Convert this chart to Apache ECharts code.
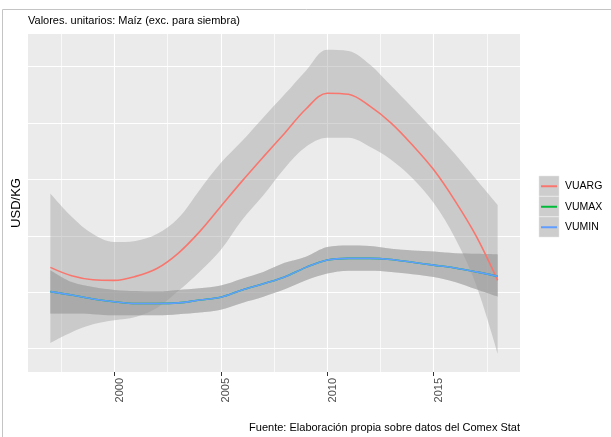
<!DOCTYPE html>
<html>
<head>
<meta charset="utf-8">
<script src="https://cdn.jsdelivr.net/npm/echarts@6/dist/echarts.min.js"></script>
<style>
  html, body { margin: 0; padding: 0; background: #fff; }
  #chart { width: 611px; height: 437px; }
</style>
</head>
<body>
<div id="chart"></div>
<script>
// años
const years = [1997, 1998, 1999, 2000, 2001, 2002, 2003, 2004, 2005, 2006, 2007,
  2008, 2009, 2010, 2011, 2012, 2013, 2014, 2015, 2016, 2017, 2018];

// VUARG (curva suavizada e intervalo)
const vuarg = [0.244, 0.229, 0.222, 0.221, 0.228, 0.242, 0.269, 0.307, 0.352, 0.397, 0.440,
  0.482, 0.525, 0.553, 0.551, 0.530, 0.500, 0.461, 0.417, 0.362, 0.299, 0.221];
const vuargHi = [0.375, 0.334, 0.303, 0.289, 0.291, 0.303, 0.331, 0.381, 0.429, 0.468, 0.510,
  0.551, 0.593, 0.630, 0.628, 0.604, 0.566, 0.527, 0.487, 0.445, 0.400, 0.355];
const vuargLo = [0.110, 0.129, 0.143, 0.150, 0.156, 0.172, 0.202, 0.236, 0.275, 0.328, 0.372,
  0.420, 0.458, 0.474, 0.474, 0.458, 0.435, 0.402, 0.358, 0.296, 0.212, 0.091];

// VUMIN
const vumin = [0.201, 0.195, 0.188, 0.183, 0.180, 0.180, 0.181, 0.186, 0.191, 0.204, 0.215,
  0.227, 0.244, 0.257, 0.260, 0.260, 0.258, 0.253, 0.248, 0.243, 0.236, 0.228];
const vuminHi = [0.239, 0.218, 0.209, 0.204, 0.202, 0.201, 0.204, 0.207, 0.212, 0.224, 0.236,
  0.252, 0.263, 0.280, 0.283, 0.282, 0.277, 0.274, 0.272, 0.269, 0.268, 0.267];
const vuminLo = [0.162, 0.162, 0.161, 0.159, 0.159, 0.159, 0.161, 0.164, 0.169, 0.181, 0.192,
  0.205, 0.221, 0.233, 0.238, 0.238, 0.236, 0.232, 0.227, 0.218, 0.205, 0.192];

// VUMAX queda tapada por VUMIN (misma curva)
const vumax = vumin;
const vumaxHi = vuminHi;
const vumaxLo = vuminLo;

const majorYears = [2000, 2005, 2010, 2015];
const minorYears = [1997.5, 2002.5, 2007.5, 2012.5, 2017.5];
const yGrid = [0.1, 0.2, 0.3, 0.4, 0.5, 0.6];

const FONT = 'Liberation Sans, Arial, sans-serif';
const BAND = 'rgba(153,153,153,0.4)';

const chart = echarts.init(document.getElementById('chart'));

// banda: serie inferior + ancho apilado (columna 0 = valor, columna 1 = año)
function band(name, lo, hi) {
  return [
    {
      name: name + '_lo', type: 'line', stack: name, smooth: 0.35, showSymbol: false,
      encode: {x: 1, y: 0},
      data: lo.map((v, i) => [v, years[i]]),
      lineStyle: {opacity: 0}, silent: true
    },
    {
      name: name + '_band', type: 'line', stack: name, smooth: 0.35, showSymbol: false,
      encode: {x: 1, y: 0},
      data: hi.map((v, i) => [v - lo[i], years[i]]),
      lineStyle: {opacity: 0}, areaStyle: {color: BAND, opacity: 1}, silent: true
    }
  ];
}

function curve(name, vals, color) {
  return {
    name: name, type: 'line', smooth: 0.35, showSymbol: false,
    data: vals.map((v, i) => [years[i], v]),
    itemStyle: {color: color},
    lineStyle: {color: color, width: 1.6}
  };
}

const option = {
  animation: false,
  title: [
    {
      text: 'Valores. unitarios: Maíz (exc. para siembra)',
      left: 28, top: 15, padding: 0,
      textStyle: {fontFamily: FONT, fontSize: 11, fontWeight: 'normal', color: '#000'}
    },
    {
      text: 'Fuente: Elaboración propia sobre datos del Comex Stat',
      right: 91, top: 422, padding: 0,
      textStyle: {fontFamily: FONT, fontSize: 11, fontWeight: 'normal', color: '#000'}
    }
  ],
  legend: {
    data: ['VUARG', 'VUMAX', 'VUMIN'],
    orient: 'vertical',
    left: 541, top: 176, padding: 0,
    icon: 'rect', itemWidth: 16, itemHeight: 2, itemGap: 0,
    selectedMode: false,
    textStyle: {fontFamily: FONT, fontSize: 10.5, color: '#000', lineHeight: 20.5, padding: [0, 0, 0, 3]}
  },
  graphic: [
    {type: 'line', shape: {x1: 2.5, y1: 9.5, x2: 611, y2: 9.5}, style: {stroke: '#c4c4c4', lineWidth: 1}},
    {type: 'line', shape: {x1: 2.5, y1: 9.5, x2: 2.5, y2: 437}, style: {stroke: '#c4c4c4', lineWidth: 1}},
    {type: 'rect', shape: {x: 539, y: 176, width: 20, height: 20}, style: {fill: '#cdcdcd', stroke: '#e4e4e4', lineWidth: 0.5}},
    {type: 'rect', shape: {x: 539, y: 196.5, width: 20, height: 20}, style: {fill: '#cdcdcd', stroke: '#e4e4e4', lineWidth: 0.5}},
    {type: 'rect', shape: {x: 539, y: 217, width: 20, height: 20}, style: {fill: '#cdcdcd', stroke: '#e4e4e4', lineWidth: 0.5}}
  ],
  grid: {
    left: 28, right: 91, top: 34, bottom: 65,
    show: true, backgroundColor: '#ebebeb', borderWidth: 0
  },
  xAxis: [
    {
      type: 'value', min: 1995.95, max: 2019.05,
      axisLine: {show: false}, axisLabel: {show: false},
      axisTick: {show: false, customValues: minorYears},
      splitLine: {show: true, lineStyle: {color: '#ffffff', width: 0.7}}
    },
    {
      type: 'value', min: 1995.95, max: 2019.05, position: 'bottom',
      axisLine: {show: false},
      axisTick: {show: true, length: 4, customValues: majorYears, lineStyle: {color: '#333333', width: 1}},
      axisLabel: {
        customValues: majorYears, rotate: 90, margin: 6, verticalAlign: 'top',
        fontFamily: FONT, fontSize: 11, color: '#4d4d4d',
        formatter: v => String(v)
      },
      splitLine: {show: true, lineStyle: {color: '#ffffff', width: 1.1}}
    }
  ],
  yAxis: {
    type: 'value', min: 0.0584, max: 0.658,
    name: 'USD/KG', nameLocation: 'middle', nameGap: 5,
    nameTextStyle: {fontFamily: FONT, fontSize: 13, color: '#000'},
    axisLine: {show: false}, axisLabel: {show: false},
    axisTick: {show: false, customValues: yGrid},
    splitLine: {show: true, lineStyle: {color: '#ffffff', width: 1}}
  },
  series: [
    ...band('arg', vuargLo, vuargHi),
    curve('VUARG', vuarg, '#F8766D'),
    ...band('max', vumaxLo, vumaxHi),
    curve('VUMAX', vumax, '#00BA38'),
    ...band('min', vuminLo, vuminHi),
    curve('VUMIN', vumin, '#619CFF')
  ]
};

chart.setOption(option);
</script>
</body>
</html>
